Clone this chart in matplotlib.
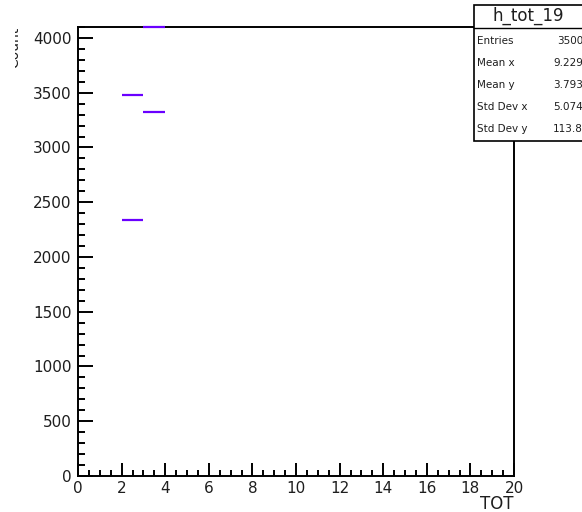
import matplotlib
matplotlib.use('Agg')

import numpy as np
import matplotlib.pyplot as plt
from matplotlib.patches import Rectangle
from matplotlib.ticker import MultipleLocator
from matplotlib.transforms import Bbox, TransformedBbox

plt.rcParams['font.family'] = ['DejaVu Sans']

# histogram bins drawn (lower edge, content); width of one bin
bin_low = [2, 2, 3, 3]
bin_counts = [2340, 3480, 3320, 4200]
BIN_WIDTH = 1

X_MIN, X_MAX = 0, 20
Y_MAX = 4100

stat_names = ['Entries', 'Mean x', 'Mean y', 'Std Dev x', 'Std Dev y']
stat_values = ['3500', '9.229', '3.793', '5.074', '113.8']
hist_name = 'h_tot_19'

LINE_COLOR = '#6a00ff'
TEXT_COLOR = '#1e1e1e'

W, H = 582, 512


def px_x(x):
    return x / W


def px_y(y):
    return 1 - y / H


fig = plt.figure(figsize=(W / 100, H / 100), dpi=100)
ax = fig.add_axes([px_x(78), px_y(476), (514 - 78) / W, (476 - 27) / H])

# ROOT draws overflowing bins along the frame top
for lo, c in zip(bin_low, bin_counts):
    ax.plot([lo, lo + BIN_WIDTH], [min(c, Y_MAX)] * 2, color=LINE_COLOR,
            lw=1.6, solid_capstyle='butt', clip_on=False, zorder=3)

ax.set_xlim(X_MIN, X_MAX)
ax.set_ylim(0, Y_MAX)

ax.xaxis.set_major_locator(MultipleLocator(2))
ax.xaxis.set_minor_locator(MultipleLocator(0.5))
ax.yaxis.set_major_locator(MultipleLocator(500))
ax.yaxis.set_minor_locator(MultipleLocator(100))

for s in ax.spines.values():
    s.set_linewidth(1.4)

ax.tick_params(axis='x', which='major', direction='in', length=9.4, width=1.4,
               labelsize=11, pad=3.5, labelcolor=TEXT_COLOR)
ax.tick_params(axis='x', which='minor', direction='in', length=4.4, width=1.4)
ax.tick_params(axis='y', which='major', direction='in', length=10.8, width=1.4,
               labelsize=11, pad=4.5, labelcolor=TEXT_COLOR)
ax.tick_params(axis='y', which='minor', direction='in', length=4.8, width=1.4)

fig.text(px_x(514), px_y(504), 'TOT', ha='right', va='center',
         fontsize=12, color=TEXT_COLOR)
ylab = fig.text(px_x(21), px_y(27), 'Count', ha='right', va='top',
                rotation=90, fontsize=10, color=TEXT_COLOR)
# only a sliver of the y title shows at the left edge
ylab.set_clip_box(TransformedBbox(Bbox([[px_x(15), 0], [1, 1]]),
                                  fig.transFigure))

# stats box
box_l, box_t, box_b = 474, 5, 141
fig.patches.append(Rectangle((px_x(box_l), px_y(box_b)), (W + 20 - box_l) / W,
                             (box_b - box_t) / H, transform=fig.transFigure,
                             facecolor='white', edgecolor='black', lw=1.2,
                             zorder=5))
fig.lines.append(plt.Line2D([px_x(box_l), 1.02], [px_y(28), px_y(28)],
                            transform=fig.transFigure, color='black', lw=1.0,
                            zorder=6))
fig.text(px_x(528), px_y(16), hist_name, ha='center', va='center',
         fontsize=12, color=TEXT_COLOR, zorder=7)
row_y = [41, 63, 85, 107, 129]
for ry, name, val in zip(row_y, stat_names, stat_values):
    fig.text(px_x(477), px_y(ry), name, ha='left', va='center',
             fontsize=7.5, color=TEXT_COLOR, zorder=7)
    fig.text(px_x(583), px_y(ry), val, ha='right', va='center',
             fontsize=7.5, color=TEXT_COLOR, zorder=7)

fig.savefig('out.png', dpi=100)
plt.close()
